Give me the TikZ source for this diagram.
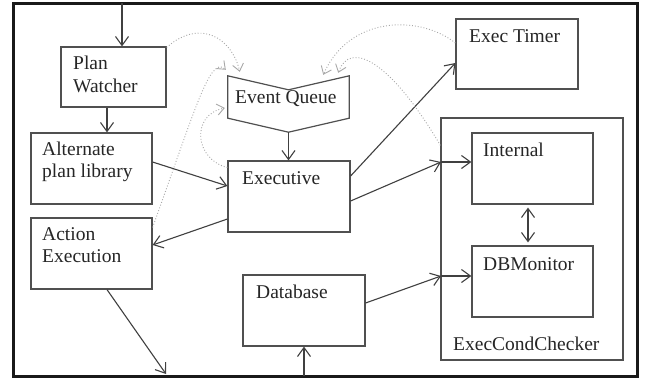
\documentclass[tikz,border=0pt]{standalone}
\usepackage{fontspec}
\setmainfont{Liberation Serif}
\usetikzlibrary{arrows.meta}
\definecolor{boxc}{HTML}{505050}
\definecolor{linec}{HTML}{404040}
\definecolor{dotc}{HTML}{A8A8A8}
\begin{document}
\begin{tikzpicture}[x=1pt,y=-1pt,
  box/.style={draw=boxc, line width=1.2pt, inner sep=0pt, rectangle},
  lbl/.style={inner sep=0pt, anchor=base west, font=\fontsize{19.5}{23}\selectfont, text=black!85},
  arr/.style={draw=linec, line width=1.1pt, -{Straight Barb[length=9pt,width=13pt,line width=1.1pt]}},
  darr/.style={draw=linec, line width=1.1pt, {Straight Barb[length=9pt,width=13pt,line width=1.1pt]}-{Straight Barb[length=9pt,width=13pt,line width=1.1pt]}},
  dotarr/.style={draw=dotc, line width=0.9pt, dotted, -{Straight Barb[length=7pt,width=11pt,line width=0.9pt]}}]
\useasboundingbox (0,0) rectangle (648,378);
\fill[white] (0,0) rectangle (648,378);
% outer frame
\draw[line width=3pt, black!90] (13,3) rectangle (637,376);

% boxes
\node[box, minimum width=105pt, minimum height=60pt] (pw) at (113.5,77) {};
\node[box, minimum width=121pt, minimum height=71pt] (alt) at (91.5,168.5) {};
\node[box, minimum width=121pt, minimum height=71pt] (act) at (91.5,253.5) {};
\node[box, minimum width=122pt, minimum height=71pt] (exe) at (289,196.5) {};
\node[box, minimum width=122pt, minimum height=70pt] (timer) at (517,54) {};
\node[box, minimum width=182pt, minimum height=242pt] (ecc) at (532,239) {};
\node[box, minimum width=121pt, minimum height=71pt] (int) at (532.5,168.5) {};
\node[box, minimum width=121pt, minimum height=71pt] (dbm) at (532.5,281.5) {};
\node[box, minimum width=122pt, minimum height=71pt] (db) at (304,310.5) {};
% event queue (chevron)
\node[inner sep=0pt, minimum width=121pt, minimum height=56pt] (eq) at (288.5,104) {};
\draw[draw=boxc, line width=1.2pt, line join=miter]
  (eq.north west) -- ([yshift=-14pt]eq.north) -- (eq.north east)
  -- ([yshift=14pt]eq.south east) -- (eq.south) -- ([yshift=14pt]eq.south west) -- cycle;

% labels
\node[lbl] (tpw1) at (73,69) {Plan};
\node[lbl] (tpw2) at (73,92) {Watcher};
\node[lbl] (talt1) at (42,155) {Alternate};
\node[lbl] (talt2) at (42,177) {plan library};
\node[lbl] (tact1) at (42,240) {Action};
\node[lbl] (tact2) at (42,262) {Execution};
\node[lbl] (teq) at (235,103) {Event Queue};
\node[lbl] (texe) at (242,184) {Executive};
\node[lbl] (ttimer) at (469,42) {Exec Timer};
\node[lbl] (tint) at (483,156) {Internal};
\node[lbl] (tdbm) at (483,270) {DBMonitor};
\node[lbl] (tdb) at (256,298) {Database};
\node[lbl] (tecc) at (453,350) {ExecCondChecker};

% free-end coordinates
\coordinate (in1) at (122,3);
\coordinate (in2) at (304,376);
\coordinate (out1) at (166,374);
\coordinate (c1) at (441,162);
\coordinate (c2) at (441,276);

% solid connectors
\draw[arr] (in1) -- (in1 |- pw.north);
\draw[arr] ([xshift=-6.5pt]pw.south) -- ([xshift=-6.5pt]pw.south |- alt.north);
\draw[arr] ([yshift=6.5pt]alt.east) -- ([yshift=10.5pt]exe.west);
\draw[arr] (eq.south) -- (eq.south |- exe.north);
\draw[arr] ([yshift=-22.5pt]exe.west) -- ([yshift=8.5pt]act.east);
\draw[arr] ([xshift=15.5pt]act.south) -- (out1);
\draw[arr] ([yshift=20.5pt]exe.east) -- ([yshift=-9pt]timer.west);
\draw[arr] ([yshift=-4.5pt]exe.east) -- (c1);
\draw[arr] (c1) -- (c1 -| int.west);
\draw[arr] ([yshift=7.5pt]db.east) -- (c2);
\draw[arr] (c2) -- (c2 -| dbm.west);
\draw[darr, shorten <=3pt, shorten >=3pt] ([xshift=-4.5pt]int.south) -- ([xshift=-4.5pt]dbm.north);
\draw[arr] (in2) -- (db.south);

% dotted connectors
\draw[dotarr] ([yshift=-1pt]pw.north east) .. controls (200,18) and (232,38) .. ([shift={(12pt,4pt)}]eq.north west);
\draw[dotarr] ([yshift=-10pt]act.north east) .. controls (195,110) and (210,55) .. ([shift={(-2pt,6pt)}]eq.north west);
\draw[dotarr] ([yshift=-7pt]exe.north west) .. controls (195,160) and (190,115) .. ([shift={(-3pt,-4pt)}]eq.west);
\draw[dotarr] ([yshift=11pt]timer.west) .. controls (420,15) and (350,15) .. ([shift={(-26pt,1pt)}]eq.north east);
\draw[dotarr] ([yshift=-28pt]ecc.north west) .. controls (390,60) and (350,40) .. ([shift={(-11pt,3pt)}]eq.north east);
\end{tikzpicture}
\end{document}
